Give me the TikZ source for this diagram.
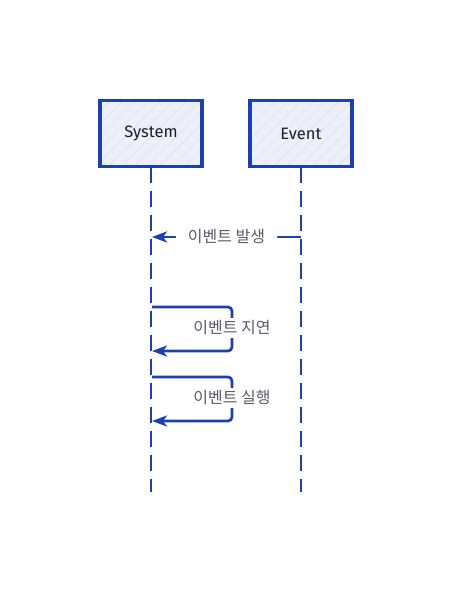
\documentclass[tikz,border=0pt]{standalone}
\usepackage{fontspec}
\setmainfont{Fira Sans}
\newfontfamily\kofont{Noto Sans CJK KR}
\usetikzlibrary{arrows.meta,patterns.meta}
\definecolor{linecol}{HTML}{1E3FAE}
\definecolor{boxfill}{HTML}{EDF0FB}
\definecolor{hatch}{HTML}{D9DEF2}
\definecolor{labelgray}{HTML}{5A5A6A}
\tikzset{
  actor/.style={fill=boxfill, minimum width=102pt, minimum height=66pt, inner sep=0pt},
  actorborder/.style={draw=linecol, line width=3.5pt},
  actortext/.style={font=\fontsize{16.5}{19}\selectfont, text=black!88},
  hatching/.style={pattern={Lines[angle=45,distance=9pt,line width=0.5pt]}, pattern color=hatch},
  lifeline/.style={draw=linecol, line width=2.7pt, dash pattern=on 16pt off 8pt},
  msg/.style={draw=linecol, line width=2.7pt, -{Stealth[length=15pt,width=11pt,inset=4pt]}, rounded corners=4pt},
  msglabel/.style={fill=white, font=\kofont\fontsize{16}{19}\selectfont, text=labelgray, inner xsep=10pt, inner ysep=3pt},
}
\begin{document}
\begin{tikzpicture}[x=1pt,y=-1pt]
\useasboundingbox (0,0) rectangle (453,593);
\node[actor] (sys) at (151,133.5) {};
\node[actor] (evt) at (301,133.5) {};
\fill[hatching] (sys.south west) rectangle (sys.north east);
\fill[hatching] (evt.south west) rectangle (evt.north east);
\draw[actorborder] (sys.south west) rectangle (sys.north east);
\draw[actorborder] (evt.south west) rectangle (evt.north east);
\node[actortext] (syst) at (sys) {System};
\node[actortext] (evtt) at (evt) {Event};
\coordinate (sysend) at (151,492);
\coordinate (evtend) at (301,492);
\draw[lifeline] (sys.south) -- (sysend);
\draw[lifeline] (evt.south) -- (evtend);
% message 1
\coordinate (m1a) at (301,237);
\coordinate (m1b) at (152,237);
\draw[msg] (m1a) -- node[msglabel, inner xsep=12pt] (m1l) {이벤트 발생} (m1b);
% self loop 1
\coordinate (l1a) at (152,307);
\coordinate (l1c) at (232,307);
\coordinate (l1d) at (232,351);
\coordinate (l1b) at (152,351);
\draw[msg] (l1a) -- (l1c) -- (l1d) -- (l1b);
\node[msglabel, inner xsep=2pt] (l1l) at (232,328) {이벤트 지연};
% self loop 2
\coordinate (l2a) at (152,377);
\coordinate (l2c) at (232,377);
\coordinate (l2d) at (232,421);
\coordinate (l2b) at (152,421);
\draw[msg] (l2a) -- (l2c) -- (l2d) -- (l2b);
\node[msglabel, inner xsep=2pt] (l2l) at (232,398) {이벤트 실행};
\end{tikzpicture}
\end{document}
